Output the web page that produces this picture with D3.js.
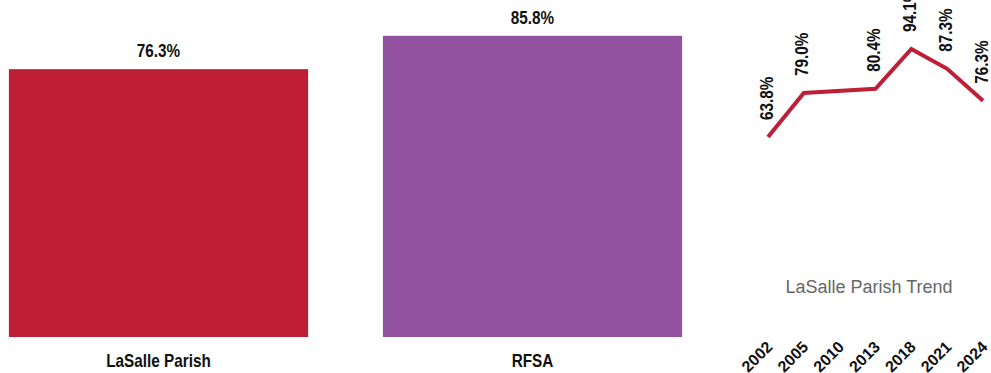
<!DOCTYPE html>
<html>
<head>
<meta charset="utf-8">
<script src="https://cdn.jsdelivr.net/npm/d3@7"></script>
<style>
  html, body { margin: 0; padding: 0; background: #fff; }
  svg { display: block; }
  .narrow { font-family: "Liberation Sans", Arial, sans-serif; font-weight: bold; }
</style>
</head>
<body>
<svg id="chart" width="991" height="373"></svg>
<script>
// ---- data ----
const barCategories = ["LaSalle Parish", "RFSA"];
const barValues = [76.3, 85.8];
const barColors = ["#BE1E36", "#93529F"];

const trendYears = ["2002", "2005", "2010", "2013", "2018", "2021", "2024"];
const trendValues = [63.8, 79.0, null, 80.4, 94.1, 87.3, 76.3];
const trendTitle = "LaSalle Parish Trend";

const svg = d3.select("#chart");
const SX = 0.85; // condensed look

// ---- bar chart ----
const xBar = d3.scaleBand().domain(barCategories).range([-28.5, 719.5]).paddingInner(0.2).paddingOuter(0.1);
const yBar = d3.scaleLinear().domain([0, 96]).range([337, 0]);

const gBar = svg.append("g");
gBar.selectAll("rect").data(barCategories).join("rect")
  .attr("x", d => xBar(d))
  .attr("y", (d, i) => yBar(barValues[i]))
  .attr("width", xBar.bandwidth())
  .attr("height", (d, i) => yBar(0) - yBar(barValues[i]))
  .attr("fill", (d, i) => barColors[i]);

gBar.selectAll("text.val").data(barCategories).join("text")
  .attr("class", "val narrow")
  .attr("transform", (d, i) => `translate(${xBar(d) + xBar.bandwidth() / 2},${yBar(barValues[i]) - 12}) scale(${SX},1)`)
  .attr("text-anchor", "middle")
  .attr("font-size", 18)
  .attr("fill", "#111")
  .text((d, i) => barValues[i].toFixed(1) + "%");

const xAxis = d3.axisBottom(xBar).tickSize(0).tickPadding(0);
const gx = gBar.append("g").attr("transform", "translate(0,337)").call(xAxis);
gx.select(".domain").remove();
gx.selectAll("text")
  .attr("class", "narrow")
  .attr("font-size", 18)
  .attr("fill", "#111")
  .attr("dy", 0)
  .attr("y", 0)
  .attr("transform", `translate(0,30) scale(${SX},1)`);

// ---- trend line ----
const xLine = d3.scalePoint().domain(trendYears).range([768, 983]);
const yLine = d3.scaleLinear().domain([0, 100]).range([322.3, 31.9]);

const line = d3.line()
  .defined(d => d.v != null)
  .x(d => xLine(d.y))
  .y(d => yLine(d.v));

const pts = trendYears.map((y, i) => ({ y, v: trendValues[i] }));
const validPts = pts.filter(d => d.v != null);

const gLine = svg.append("g");
gLine.append("path")
  .datum(validPts)
  .attr("d", line)
  .attr("fill", "none")
  .attr("stroke", "#BE1E36")
  .attr("stroke-width", 4)
  .attr("stroke-linejoin", "miter");

gLine.selectAll("text.pl").data(validPts).join("text")
  .attr("class", "pl narrow")
  .attr("transform", d => `translate(${xLine(d.y)},${yLine(d.v) - 17}) rotate(-90) scale(${SX},1)`)
  .attr("dy", "0.25em")
  .attr("text-anchor", "start")
  .attr("font-size", 18)
  .attr("fill", "#111")
  .text(d => d.v.toFixed(1) + "%");

const xAxisLine = d3.axisBottom(xLine).tickSize(0).tickPadding(0);
const gx2 = gLine.append("g").attr("transform", "translate(0,345)").call(xAxisLine);
gx2.select(".domain").remove();
gx2.selectAll("text")
  .attr("class", "narrow")
  .attr("font-size", 16)
  .attr("fill", "#111")
  .attr("text-anchor", "end")
  .attr("y", 0)
  .attr("dy", 0)
  .attr("transform", "translate(5,3) rotate(-45)");

gLine.append("text")
  .attr("x", 869)
  .attr("y", 293)
  .attr("text-anchor", "middle")
  .attr("font-family", "Liberation Sans, Arial, sans-serif")
  .attr("font-size", 18)
  .attr("fill", "#666")
  .text(trendTitle);
</script>
</body>
</html>
